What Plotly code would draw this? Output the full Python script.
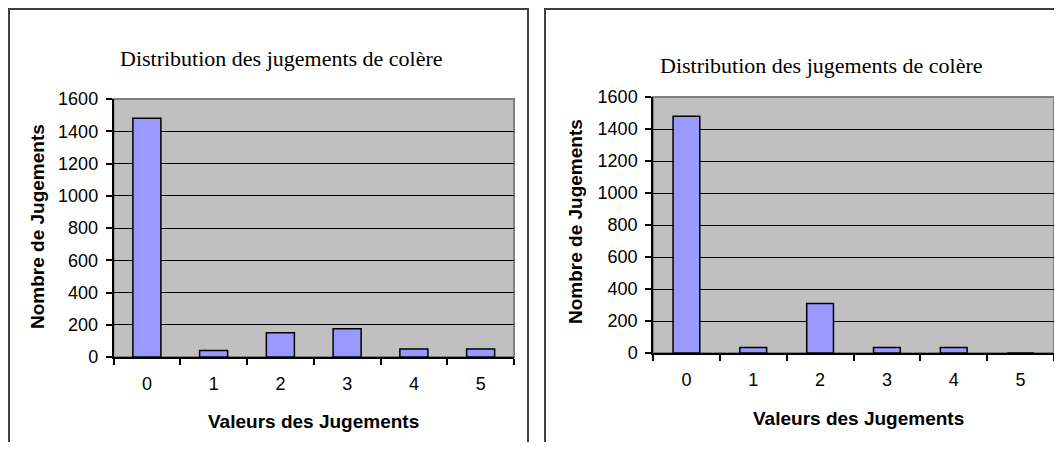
import plotly.graph_objects as go

# la page ajoute 8 px de marge autour de la figure
OFF = 8
W, H = 1062 - 2 * OFF, 450 - 2 * OFF

# valeurs
valeurs = ["0", "1", "2", "3", "4", "5"]
jugements_gauche = [1480, 40, 150, 175, 50, 50]
jugements_droite = [1480, 35, 310, 35, 35, 0]

titre = "Distribution des jugements de colère"
titre_x = "Valeurs des Jugements"
titre_y = "Nombre de Jugements"


def px_x(v):
    return (v - OFF) / W


def px_y(v):
    return 1 - (v - OFF) / H


fig = go.Figure()
fig.add_trace(go.Bar(x=valeurs, y=jugements_gauche, xaxis="x", yaxis="y",
                     width=0.42, marker=dict(color="#9999FF", line=dict(color="black", width=1.5))))
fig.add_trace(go.Bar(x=valeurs, y=jugements_droite, xaxis="x2", yaxis="y2",
                     width=0.40, marker=dict(color="#9999FF", line=dict(color="black", width=1.5))))

tick_font = dict(family="Liberation Sans, Arial", size=18, color="black")
xax = dict(type="category", tickson="boundaries", ticks="outside", ticklen=6, tickwidth=1.5,
           tickcolor="black", showline=True, linecolor="black", linewidth=1.5,
           showgrid=False, tickfont=tick_font, ticklabelstandoff=10, fixedrange=True,
           automargin=False)
yax = dict(range=[0, 1600], dtick=200, ticks="outside", ticklen=6, tickwidth=1.5,
           tickcolor="black", showline=True, linecolor="black", linewidth=1.5,
           showgrid=True, gridcolor="black", gridwidth=1.3, zeroline=False,
           tickfont=tick_font, ticklabelstandoff=4, fixedrange=True, automargin=False)

fig.update_layout(
    width=W, height=H, showlegend=False,
    paper_bgcolor="white", plot_bgcolor="#C0C0C0",
    margin=dict(l=0, r=0, t=0, b=0, pad=0),
    xaxis=dict(xax, domain=[px_x(113.5), px_x(514)], anchor="y"),
    yaxis=dict(yax, domain=[px_y(357), px_y(99)], anchor="x"),
    xaxis2=dict(xax, domain=[px_x(653), min(1, px_x(1060))], anchor="y2"),
    yaxis2=dict(yax, domain=[px_y(353), px_y(97)], anchor="x2"),
)

shapes = []
# cadres des deux graphiques
shapes.append(dict(type="rect", xref="paper", yref="paper",
                   x0=px_x(9), x1=px_x(528), y0=-0.1, y1=px_y(9),
                   line=dict(color="#404040", width=2)))
shapes.append(dict(type="rect", xref="paper", yref="paper",
                   x0=px_x(545), x1=1.1, y0=-0.1, y1=px_y(9),
                   line=dict(color="#404040", width=2)))
# bordure grise de la zone de tracé
for xa, ya in [("x", "y"), ("x2", "y2")]:
    shapes.append(dict(type="rect", xref=f"{xa} domain", yref=f"{ya} domain",
                       x0=0, x1=1, y0=0, y1=1, layer="below",
                       line=dict(color="#808080", width=2)))
fig.update_layout(shapes=shapes)

serif = dict(family="Liberation Serif, Times New Roman", size=22, color="black")
sans = dict(family="Liberation Sans, Arial", size=19, color="black", weight="bold")
annots = [
    (281, 58, titre, serif, 0),
    (821, 66, titre, serif, 0),
    (313, 421, titre_x, sans, 0),
    (858, 418, titre_x, sans, 0),
    (37, 227, titre_y, sans, -90),
    (575, 222, titre_y, sans, -90),
]
for x, y, txt, font, ang in annots:
    fig.add_annotation(x=px_x(x), y=px_y(y), xref="paper", yref="paper", text=txt,
                       showarrow=False, font=font, textangle=ang,
                       xanchor="center", yanchor="middle")

fig.write_html("out.html")
